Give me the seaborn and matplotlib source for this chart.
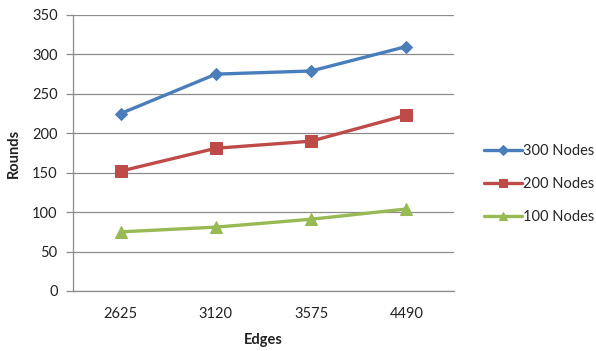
import matplotlib
matplotlib.use("Agg")
import matplotlib.pyplot as plt
import seaborn as sns
import pandas as pd

edges = ["2625", "3120", "3575", "4490"]
series_names = ["300 Nodes", "200 Nodes", "100 Nodes"]
rounds_300 = [225, 275, 279, 310]
rounds_200 = [152, 181, 190, 223]
rounds_100 = [75, 81, 91, 104]
y_ticks = [0, 50, 100, 150, 200, 250, 300, 350]

colors = ["#4A7EBB", "#BE4B48", "#98B954"]
markers = ["D", "s", "^"]
marker_sizes = [6, 8, 8]

rows = []
for name, vals in zip(series_names, [rounds_300, rounds_200, rounds_100]):
    for e, v in zip(edges, vals):
        rows.append({"Edges": e, "Rounds": v, "Series": name})
df = pd.DataFrame(rows)

sns.set_theme(style="white")
plt.rcParams["font.family"] = ["Lato", "DejaVu Sans"]

fig = plt.figure(figsize=(5.96, 3.51), dpi=100)
ax = fig.add_axes([73 / 596, 60 / 351, 381 / 596, 276 / 351])

for name, col, mk, ms in zip(series_names, colors, markers, marker_sizes):
    sub = df[df["Series"] == name]
    sns.lineplot(data=sub, x="Edges", y="Rounds", ax=ax, color=col, marker=mk,
                 markersize=ms, markeredgecolor=col, linewidth=2.4, label=name,
                 sort=False)

ax.set_xlim(-0.5, len(edges) - 0.5)
ax.set_ylim(0, 350)
ax.set_yticks(y_ticks)
ax.yaxis.grid(True, color="#8C8C8C", linewidth=0.9)
ax.set_axisbelow(True)
for s in ["top", "right"]:
    ax.spines[s].set_visible(False)
for s in ["left", "bottom"]:
    ax.spines[s].set_color("#8C8C8C")
    ax.spines[s].set_linewidth(0.9)
ax.tick_params(axis="y", which="major", left=True, length=5, width=0.9,
               color="#8C8C8C", labelsize=10.5, labelcolor="#222222", pad=6)
ax.tick_params(axis="x", bottom=False, labelsize=10.5, labelcolor="#222222", pad=5.5)

ax.set_xlabel("Edges", fontsize=10.5, fontweight="bold", color="#222222", labelpad=9)
ax.set_ylabel("Rounds", fontsize=10.5, fontweight="bold", color="#222222", labelpad=8)

ax.legend(loc="center left", bbox_to_anchor=(478 / 596, 167 / 351),
          bbox_transform=fig.transFigure, frameon=False, fontsize=10.5,
          handlelength=2.6, handletextpad=0.1, labelspacing=1.3,
          borderaxespad=0, markerscale=0.8)

fig.savefig("out.png", dpi=100)
